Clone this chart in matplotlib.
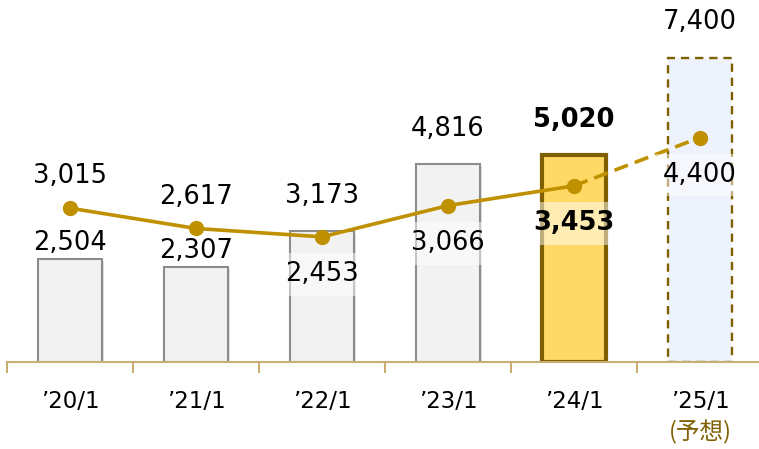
import matplotlib
matplotlib.use("Agg")
import matplotlib.pyplot as plt
import matplotlib.patheffects as pe
import numpy as np

categories = ["’20/1", "’21/1", "’22/1", "’23/1", "’24/1", "’25/1"]
bar_values = [2504, 2307, 3173, 4816, 5020, 7400]
line_values = [3015, 2617, 2453, 3066, 3453, 4400]
forecast_note = "(予想)"

# styling
bar_label_gap_pt = [2, 2, 16, 16, 16, 16]
line_label_side = ["above", "above", "below", "below", "below", "below"]
bold_idx = 4
forecast_idx = 5

GOLD = "#BF9000"
DARK_GOLD = "#7F6000"
AXIS_COL = "#C9B072"

plt.rcParams['font.family'] = ['DejaVu Sans']

fig = plt.figure(figsize=(7.59, 4.49), dpi=100)
W, H = 759, 449
base_px = 362
ax = fig.add_axes([7 / W, (H - base_px) / H, 756 / W, base_px / H])
ax.set_facecolor("none")

x = np.arange(len(categories))
ax.set_xlim(-0.5, len(categories) - 0.5)
ax.set_ylim(0, 8800)

faces = ["#F2F2F2"] * 4 + ["#FFD966", "#EEF2FD"]
edges = ["#8C8C8C"] * 4 + [DARK_GOLD, "#7F6000"]
lws = [1.5] * 4 + [3.0, 1.7]
lss = ["-"] * 4 + ["-", (0, (3.5, 2.5))]

bars = ax.bar(x, bar_values, width=0.51, color=faces, edgecolor=edges, zorder=2)
for i, b in enumerate(bars):
    b.set_linewidth(lws[i])
    b.set_linestyle(lss[i])
    if i < 4:
        b.set_path_effects([pe.SimplePatchShadow(offset=(1.5, -1.5), alpha=0.25, shadow_rgbFace="#888888"), pe.Normal()])

for i, v in enumerate(bar_values):
    ax.annotate(f"{v:,}", (x[i], v), xytext=(0, bar_label_gap_pt[i]), textcoords="offset points",
                ha="center", va="bottom", fontsize=18.5,
                fontweight="bold" if i == bold_idx else "normal", color="black", zorder=6)

# line on secondary axis
ax2 = ax.twinx()
ax2.set_ylim(0, 7095)
ax2.set_xlim(ax.get_xlim())
ax2.axis("off")
n_solid = forecast_idx
ax2.plot(x[:n_solid], line_values[:n_solid], color=GOLD, lw=2.6, marker="o", ms=10, zorder=4)
ax2.plot(x[n_solid - 1:], line_values[n_solid - 1:], color=GOLD, lw=2.6, ls=(0, (4, 2)), zorder=4)
ax2.plot(x[n_solid:], line_values[n_solid:], color=GOLD, lw=0, marker="o", ms=10, zorder=4)

for i, v in enumerate(line_values):
    dy = 23 if line_label_side[i] == "above" else -27
    kw = {}
    if line_label_side[i] == "below":
        kw["bbox"] = dict(boxstyle="square,pad=0.33", fc="white", ec="none", alpha=0.5)
    ax2.annotate(f"{v:,}", (x[i], v), xytext=(0, dy), textcoords="offset points",
                 ha="center", va="center", fontsize=18.5,
                 fontweight="bold" if i == bold_idx else "normal", color="black", zorder=6, **kw)

# axes styling
for s in ["top", "right", "left"]:
    ax.spines[s].set_visible(False)
ax.spines["bottom"].set_color(AXIS_COL)
ax.spines["bottom"].set_linewidth(1.5)
ax.set_yticks([])
ax.set_xticks(x)
ax.set_xticklabels(categories, fontsize=16.5)
ax.tick_params(axis="x", which="major", length=0, pad=20)
ax.set_xticks(np.arange(len(categories) + 1) - 0.5, minor=True)
ax.tick_params(axis="x", which="minor", length=8, width=1.5, color=AXIS_COL)

ax.annotate(forecast_note, (x[forecast_idx], 0), xycoords=("data", "axes fraction"),
            xytext=(0, -42), textcoords="offset points", ha="center", va="top",
            fontsize=17, color=DARK_GOLD, family=['Noto Sans CJK JP', 'DejaVu Sans'])

fig.savefig("out.png", dpi=100)
